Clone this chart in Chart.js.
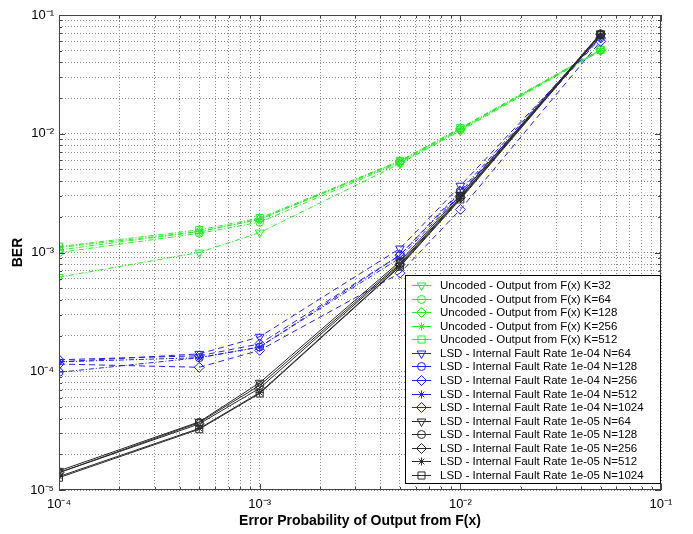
<!DOCTYPE html>
<html lang="en">
<head>
<meta charset="UTF-8">
<title>BER vs Error Probability of Output from F(x)</title>
<script src="https://cdn.jsdelivr.net/npm/chart.js"></script>
<style>
  body { margin: 0; background: #fff; }
  #wrap { width: 693px; height: 534px; }
</style>
</head>
<body>
<div id="wrap"><canvas id="berChart" width="693" height="534"></canvas></div>
<script>
// x positions: error probability of the F(x) output
const errProb = [1e-4, 5e-4, 1e-3, 5e-3, 1e-2, 5e-2];

// Uncoded - Output from F(x)
const uncK32  = [6.2e-4, 1.0e-3, 1.47e-3, 5.6e-3, 1.06e-2, 5.0e-2];
const uncK64  = [1.0e-3, 1.45e-3, 1.8e-3, 5.7e-3, 1.08e-2, 5.1e-2];
const uncK128 = [1.05e-3, 1.5e-3, 1.9e-3, 5.8e-3, 1.1e-2, 5.1e-2];
const uncK256 = [1.1e-3, 1.5e-3, 1.9e-3, 5.9e-3, 1.1e-2, 5.0e-2];
const uncK512 = [1.12e-3, 1.55e-3, 1.95e-3, 5.9e-3, 1.12e-2, 5.1e-2];

// LSD - internal fault rate 1e-04
const lsd4N64   = [1.2e-4, 1.4e-4, 1.95e-4, 1.08e-3, 3.65e-3, 6.5e-2];
const lsd4N128  = [9.8e-5, 1.3e-4, 1.6e-4, 9.5e-4, 3.3e-3, 6.8e-2];
const lsd4N256  = [1.15e-4, 1.08e-4, 1.5e-4, 6.7e-4, 2.3e-3, 6.0e-2];
const lsd4N512  = [1.2e-4, 1.3e-4, 1.6e-4, 9.0e-4, 3.1e-3, 6.6e-2];
const lsd4N1024 = [1.25e-4, 1.35e-4, 1.7e-4, 9.5e-4, 3.2e-3, 6.4e-2];

// LSD - internal fault rate 1e-05
const lsd5N64   = [1.45e-5, 3.75e-5, 8.0e-5, 8.4e-4, 3.05e-3, 7.0e-2];
const lsd5N128  = [1.4e-5, 3.7e-5, 7.6e-5, 8.1e-4, 2.95e-3, 6.9e-2];
const lsd5N256  = [1.4e-5, 3.6e-5, 7.2e-5, 7.9e-4, 2.9e-3, 6.9e-2];
const lsd5N512  = [1.3e-5, 3.3e-5, 6.6e-5, 7.7e-4, 2.85e-3, 6.9e-2];
const lsd5N1024 = [1.27e-5, 3.25e-5, 6.5e-5, 7.6e-4, 2.8e-3, 6.8e-2];

const seriesLabels = [
  'Uncoded - Output from F(x) K=32', 'Uncoded - Output from F(x) K=64', 'Uncoded - Output from F(x) K=128',
  'Uncoded - Output from F(x) K=256', 'Uncoded - Output from F(x) K=512',
  'LSD - Internal Fault Rate 1e-04 N=64', 'LSD - Internal Fault Rate 1e-04 N=128', 'LSD - Internal Fault Rate 1e-04 N=256',
  'LSD - Internal Fault Rate 1e-04 N=512', 'LSD - Internal Fault Rate 1e-04 N=1024',
  'LSD - Internal Fault Rate 1e-05 N=64', 'LSD - Internal Fault Rate 1e-05 N=128', 'LSD - Internal Fault Rate 1e-05 N=256',
  'LSD - Internal Fault Rate 1e-05 N=512', 'LSD - Internal Fault Rate 1e-05 N=1024'
];
const seriesValues = [uncK32, uncK64, uncK128, uncK256, uncK512,
  lsd4N64, lsd4N128, lsd4N256, lsd4N512, lsd4N1024,
  lsd5N64, lsd5N128, lsd5N256, lsd5N512, lsd5N1024];

// tick labels (decades only) and minor grid multiples
const xTickValues = [1e-4, 1e-3, 1e-2, 1e-1];
const xTickLabels = ['10⁻⁴', '10⁻³', '10⁻²', '10⁻¹'];
const yTickValues = [1e-5, 1e-4, 1e-3, 1e-2, 1e-1];
const yTickLabels = ['10⁻⁵', '10⁻⁴', '10⁻³', '10⁻²', '10⁻¹'];
const minorSteps = [2, 3, 4, 5, 6, 7, 8, 9];

// marker / line styles
const markers = [
  { pointStyle: 'triangle', rotation: 180, radius: 5 },
  { pointStyle: 'circle', rotation: 0, radius: 4 },
  { pointStyle: 'rectRot', rotation: 0, radius: 5 },
  { pointStyle: 'star', rotation: 0, radius: 4 },
  { pointStyle: 'rect', rotation: 0, radius: 5 }
];
const blueMarkers = [markers[0], markers[1], markers[2], markers[3], markers[2]];
const groupColor = ['#22ee22', '#2020ff', '#2a2a2a'];
const groupDash = [
  [[5, 2, 1, 2], [5, 2, 1, 2], [5, 2, 1, 2], [5, 2, 1, 2], [5, 2, 1, 2]],
  [[6, 4], [5, 2, 1, 2], [6, 4], [5, 2, 1, 2], [6, 4]],
  [[], [], [], [], []]
];

const datasets = seriesValues.map((vals, i) => {
  const g = Math.floor(i / 5), k = i % 5;
  const m = g === 1 ? blueMarkers[k] : markers[k];
  return {
    label: seriesLabels[i],
    data: errProb.map((x, j) => ({ x: x, y: vals[j] })),
    borderColor: groupColor[g],
    borderWidth: 1,
    borderDash: groupDash[g][k],
    pointStyle: m.pointStyle,
    pointRotation: m.rotation,
    pointRadius: m.radius,
    pointBorderColor: groupColor[g],
    pointBackgroundColor: 'rgba(0,0,0,0)',
    pointBorderWidth: 1,
    fill: false,
    tension: 0,
    order: 15 - i
  };
});

function logTicks(decades) {
  const ticks = [];
  decades.forEach((d, i) => {
    ticks.push({ value: d, major: true });
    if (i < decades.length - 1) minorSteps.forEach(m => ticks.push({ value: m * d, major: false }));
  });
  return ticks;
}

function labelFor(values, labels) {
  return v => {
    const i = values.findIndex(t => Math.abs(Math.log10(t) - Math.log10(v)) < 1e-6);
    return i < 0 ? '' : labels[i];
  };
}

// box around the axes + inward tick marks on all four sides
const axesBox = {
  id: 'axesBox',
  afterDraw(chart) {
    const { ctx, chartArea: a, scales } = chart;
    ctx.save();
    ctx.strokeStyle = '#444';
    ctx.lineWidth = 1;
    ctx.beginPath();
    scales.x.ticks.forEach(t => {
      const px = Math.round(scales.x.getPixelForValue(t.value)) + 0.5;
      const len = t.major ? 6 : 3;
      ctx.moveTo(px, a.bottom); ctx.lineTo(px, a.bottom - len);
      ctx.moveTo(px, a.top); ctx.lineTo(px, a.top + len);
    });
    scales.y.ticks.forEach(t => {
      const py = Math.round(scales.y.getPixelForValue(t.value)) + 0.5;
      const len = t.major ? 6 : 3;
      ctx.moveTo(a.left, py); ctx.lineTo(a.left + len, py);
      ctx.moveTo(a.right, py); ctx.lineTo(a.right - len, py);
    });
    ctx.stroke();
    ctx.strokeRect(a.left + 0.5, a.top + 0.5, a.right - a.left - 1, a.bottom - a.top - 1);
    ctx.restore();
  }
};

// MATLAB style legend box in the lower right corner
const boxLegend = {
  id: 'boxLegend',
  afterDraw(chart) {
    const { ctx, chartArea: a } = chart;
    const w = 255, h = 208;
    const x0 = a.right - 1 - w, y0 = a.bottom - 7 - h;
    ctx.save();
    ctx.fillStyle = '#fff';
    ctx.fillRect(x0, y0, w, h);
    ctx.strokeStyle = '#000';
    ctx.lineWidth = 1;
    ctx.strokeRect(x0 + 0.5, y0 + 0.5, w, h);
    ctx.font = '11.5px "Liberation Sans", Arial, sans-serif';
    ctx.textBaseline = 'middle';
    chart.data.datasets.forEach((ds, i) => {
      const y = Math.round(y0 + 10 + i * 13.57) + 0.5;
      ctx.strokeStyle = ds.borderColor;
      ctx.setLineDash([]);
      ctx.beginPath();
      ctx.moveTo(x0 + 7, y); ctx.lineTo(x0 + 26, y);
      ctx.stroke();
      ctx.fillStyle = 'rgba(0,0,0,0)';
      Chart.helpers.drawPoint(ctx, {
        pointStyle: ds.pointStyle, rotation: ds.pointRotation,
        radius: ds.pointRadius, borderWidth: 1
      }, x0 + 16.5, y);
      ctx.fillStyle = '#000';
      ctx.fillText(ds.label, x0 + 35, y);
    });
    ctx.restore();
  }
};

const tickFont = { family: '"Liberation Sans", Arial, sans-serif', size: 13 };
const titleFont = { family: '"Liberation Sans", Arial, sans-serif', size: 14, weight: 'bold' };
const gridOpts = { color: '#8a8a8a', lineWidth: 1, drawTicks: false };
const borderOpts = { display: false, dash: [1, 2] };

new Chart(document.getElementById('berChart'), {
  type: 'line',
  data: { datasets: datasets },
  options: {
    responsive: false,
    animation: false,
    layout: { padding: { top: 15, right: 32, bottom: 0, left: 0 } },
    plugins: { legend: { display: false }, tooltip: { enabled: false } },
    scales: {
      x: {
        type: 'logarithmic',
        min: 1e-4, max: 1e-1,
        grid: gridOpts, border: borderOpts,
        afterBuildTicks: s => { s.ticks = logTicks(xTickValues); },
        afterFit: s => { s.height = 44; },
        ticks: { autoSkip: false, maxRotation: 0, padding: 7, color: '#000', font: tickFont, callback: labelFor(xTickValues, xTickLabels) },
        title: { display: true, text: 'Error Probability of Output from F(x)', color: '#000', font: titleFont, padding: { top: 0, bottom: 4 } }
      },
      y: {
        type: 'logarithmic',
        min: 1e-5, max: 1e-1,
        grid: gridOpts, border: borderOpts,
        afterBuildTicks: s => { s.ticks = logTicks(yTickValues); },
        afterFit: s => { s.width = 59; },
        ticks: { autoSkip: false, padding: 5, color: '#000', font: tickFont, callback: labelFor(yTickValues, yTickLabels) },
        title: { display: true, text: 'BER', color: '#000', font: titleFont, padding: { top: 10, bottom: 0 } }
      }
    }
  },
  plugins: [axesBox, boxLegend]
});
</script>
</body>
</html>
